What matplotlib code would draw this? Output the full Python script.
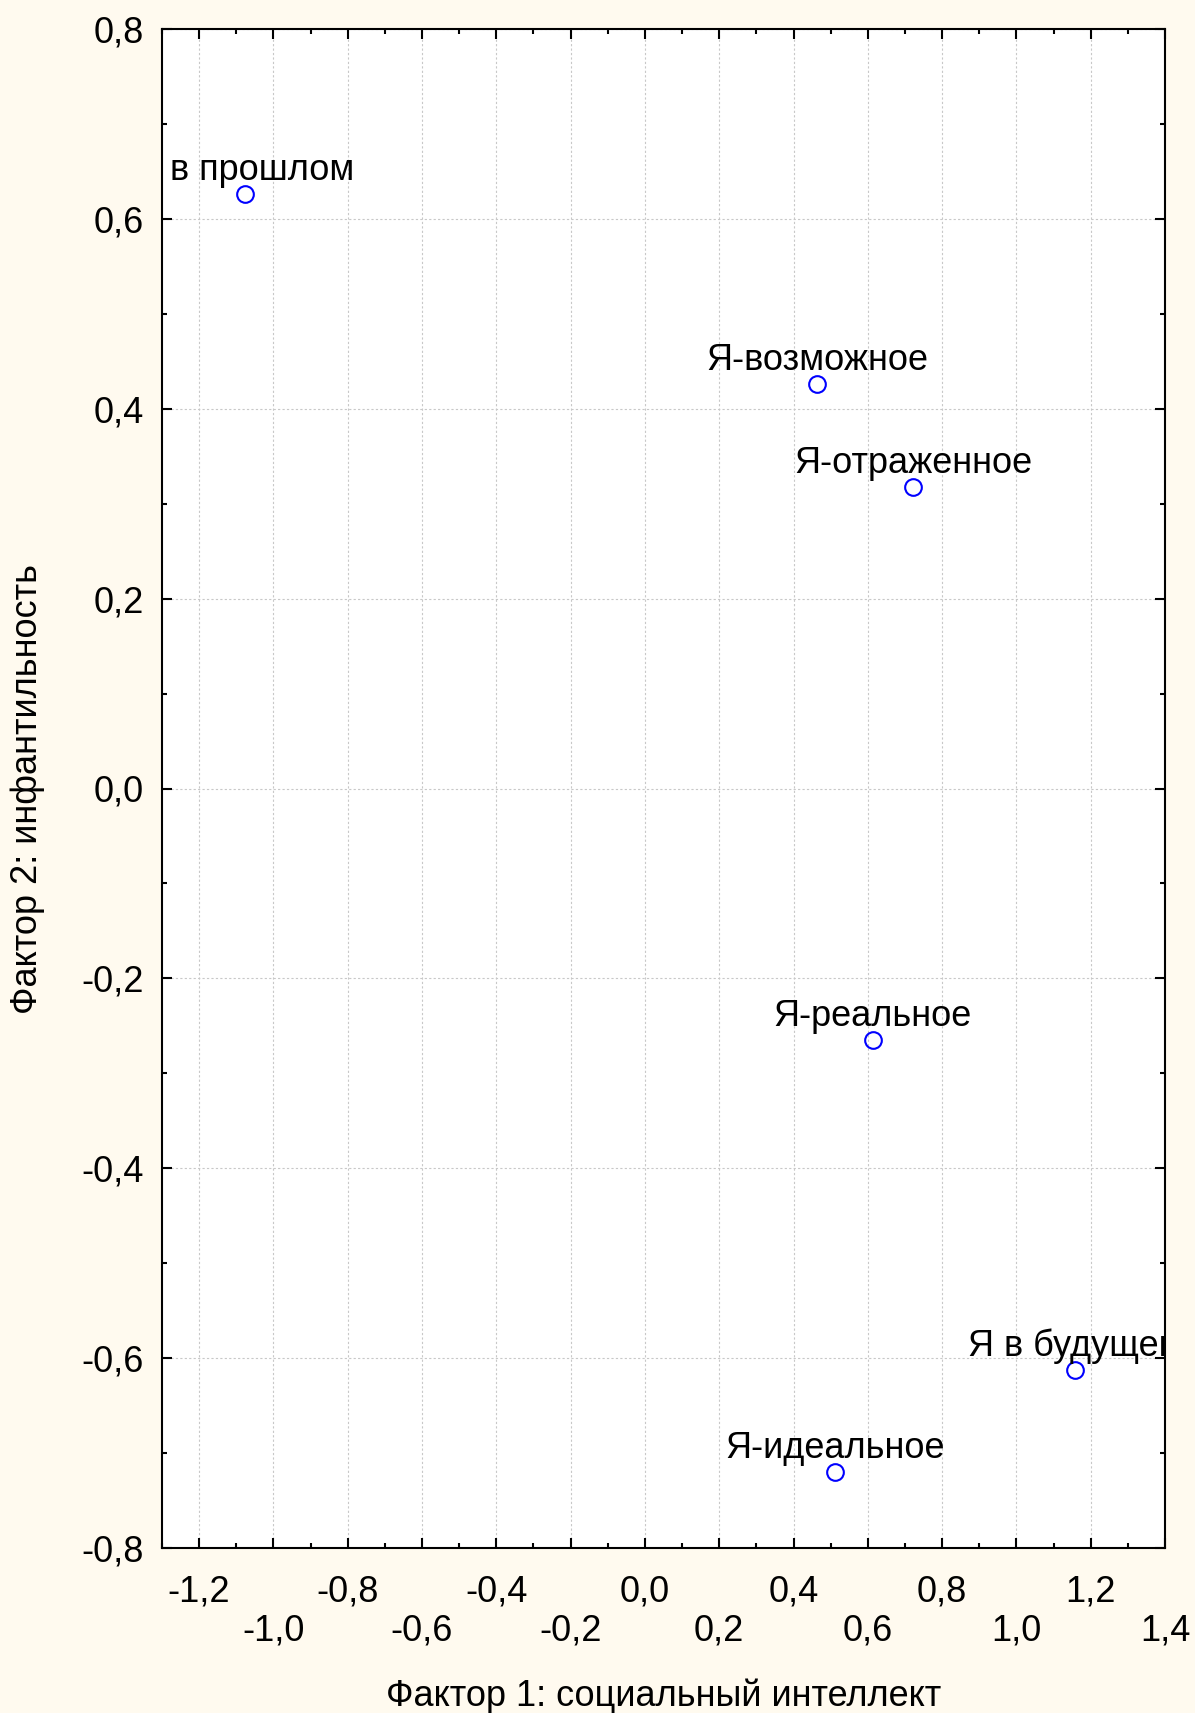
import numpy as np
import matplotlib.pyplot as plt

plt.rcParams['font.family'] = ['Liberation Sans', 'DejaVu Sans']

# factor scores
names = ['в прошлом', 'Я-возможное', 'Я-отраженное', 'Я-реальное', 'Я в будущем', 'Я-идеальное']
f1 = [-1.077, 0.464, 0.722, 0.613, 1.159, 0.513]
f2 = [0.626, 0.426, 0.318, -0.265, -0.612, -0.72]

xticks = [-1.2, -1.0, -0.8, -0.6, -0.4, -0.2, 0.0, 0.2, 0.4, 0.6, 0.8, 1.0, 1.2, 1.4]
yticks = [-0.8, -0.6, -0.4, -0.2, 0.0, 0.2, 0.4, 0.6, 0.8]

bg = '#fffaef'
fs = 26

fig = plt.figure(figsize=(11.95, 17.13), dpi=100, facecolor=bg)
ax = fig.add_axes([162/1195, 1 - 1548/1713, (1165-162)/1195, (1548-29)/1713])
ax.set_facecolor('white')

ax.plot(f1, f2, 'o', ms=12, mfc='none', mec='#0000ff', mew=1.5, zorder=3)

for i, nm in enumerate(names):
    if i == 0:
        # label shifted right to stay inside the frame
        ax.annotate(nm, (f1[i], f2[i]), xytext=(-54, 10), textcoords='offset points',
                    ha='left', va='baseline', fontsize=fs, clip_on=True)
    else:
        ax.annotate(nm, (f1[i], f2[i]), xytext=(0, 10), textcoords='offset points',
                    ha='center', va='baseline', fontsize=fs, clip_on=True)

ax.set_xlim(-1.3, 1.4)
ax.set_ylim(-0.8, 0.8)

ax.set_xticks(xticks)
xl = []
for i, t in enumerate(xticks):
    s = ('%.1f' % t).replace('.', ',')
    if s == '-0,0':
        s = '0,0'
    xl.append(s if i % 2 == 0 else '\n' + s)
ax.set_xticklabels(xl, linespacing=1.15)
ax.set_yticks(yticks)
ax.set_yticklabels([('%.1f' % t).replace('.', ',').replace('-0,0', '0,0') for t in yticks])
ax.set_xticks(np.arange(-1.3, 1.41, 0.1), minor=True)
ax.set_yticks(np.arange(-0.8, 0.81, 0.1), minor=True)

ax.tick_params(which='both', direction='in', top=True, right=True, labelsize=fs, width=1.5)
ax.tick_params(which='major', length=7)
ax.tick_params(which='minor', length=3.5)
ax.tick_params(axis='x', pad=19)
ax.tick_params(axis='y', pad=13)

ax.grid(True, which='major', ls=(0, (2, 2)), color='#c8c8c8', lw=0.8)
ax.set_axisbelow(True)
for sp in ax.spines.values():
    sp.set_linewidth(1.5)
    sp.set_color('black')

ax.set_xlabel('Фактор 1: социальный интеллект', fontsize=fs, labelpad=22)
ax.set_ylabel('Фактор 2: инфантильность', fontsize=fs, labelpad=26)

fig.savefig('out.png', dpi=100, facecolor=bg)
